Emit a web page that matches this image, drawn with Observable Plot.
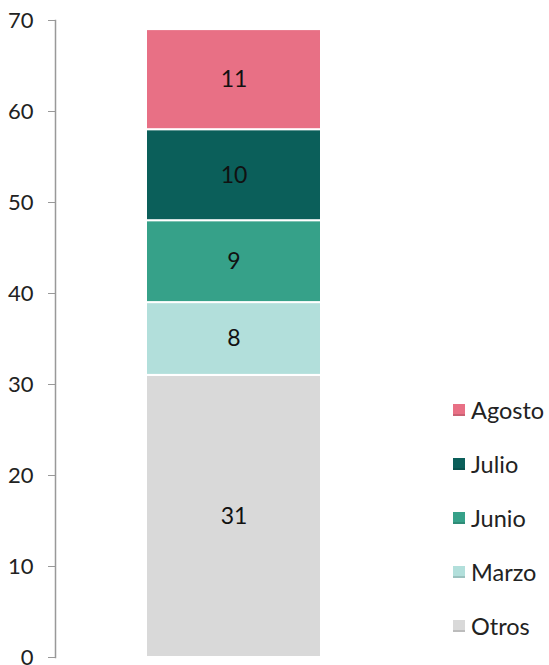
<!DOCTYPE html>
<html><head><meta charset="utf-8">
<script src="https://cdn.jsdelivr.net/npm/d3@7"></script>
<script src="https://cdn.jsdelivr.net/npm/@observablehq/plot@0.6"></script>
<style>
body{margin:0;background:#fff;font-family:Lato,sans-serif;}
#wrap{position:relative;width:549px;height:665px;}
.legend{position:absolute;left:453px;font-size:23.5px;color:#222;display:flex;align-items:center;white-space:nowrap;}
.sw{width:12px;height:12px;margin-right:6px;border-bottom:2px solid;box-sizing:border-box;flex:none;}
</style></head>
<body><div id="wrap"></div>
<script>
const categories = ["Otros","Marzo","Junio","Julio","Agosto"];
const values = [31, 8, 9, 10, 11];
const colors = ["#D9D9D9","#B2DFDB","#36A189","#0B5F5A","#E87085"];
const yTicks = [0,10,20,30,40,50,60,70];
const legendOrder = ["Agosto","Julio","Junio","Marzo","Otros"];

const data = categories.map((c,i)=>({k:"total", cat:c, v:values[i]}));

const chart = Plot.plot({
  width: 549, height: 665,
  marginLeft: 55, marginRight: 137, marginTop: 20, marginBottom: 8,
  style: {fontFamily: "Lato, sans-serif", fontSize: "22px", color: "#222", overflow: "visible"},
  x: {type: "band", domain: ["total"], padding: 0.342, axis: null},
  y: {domain: [0, 70], ticks: yTicks},
  color: {domain: categories, range: colors},
  marks: [
    Plot.barY(data, Plot.stackY({x: "k", y: "v", fill: "cat", stroke: "white", strokeWidth: 2, order: null})),
    Plot.text(data, Plot.stackY({x: "k", y: "v", text: d => String(d.v), fill: "#111", fontSize: 23, order: null})),
    Plot.axisY({ticks: yTicks, tickSize: 7, tickPadding: 15, stroke: "#999", fill: "#222", fontSize: 22, label: null}),
    Plot.frame({anchor: "left", stroke: "#999", strokeWidth: 1.5})
  ]
});
const wrap = document.getElementById("wrap");
wrap.appendChild(chart);
const ys = [410, 464, 518, 572, 626];
legendOrder.forEach((c,i)=>{
  const col = colors[categories.indexOf(c)];
  const div = document.createElement("div");
  div.className = "legend";
  div.style.top = (ys[i]-14) + "px";
  div.style.height = "28px";
  const sw = document.createElement("span");
  sw.className = "sw";
  sw.style.background = col;
  sw.style.borderColor = d3.color(col).darker(0.4);
  div.appendChild(sw);
  div.appendChild(document.createTextNode(c));
  wrap.appendChild(div);
});
</script></body></html>
